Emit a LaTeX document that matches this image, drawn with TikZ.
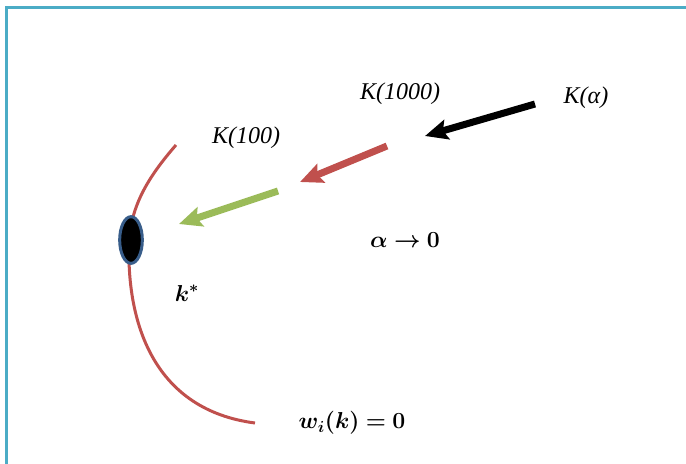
\documentclass[tikz,border=0pt]{standalone}
\usepackage{amsmath,amssymb}
\usepackage{bm}
\usepackage{fontspec}
\setmainfont{Liberation Serif}
\usepackage{tikz}
\usetikzlibrary{shapes.geometric,arrows.meta,positioning}
\definecolor{frameaqua}{HTML}{4BACC6}
\definecolor{curvered}{HTML}{C0504D}
\definecolor{leafgreen}{HTML}{9BBB59}
\definecolor{rimblue}{HTML}{385D8A}

\begin{document}
\begin{tikzpicture}[
    x=0.75pt, y=-0.75pt,
    klabel/.style={font=\fontsize{18}{21}\selectfont\itshape, inner sep=1pt},
    mlabel/.style={font=\fontsize{17}{20}\selectfont, inner sep=1pt},
    optimum/.style={ellipse, draw=rimblue, fill=black, line width=2.25pt, inner sep=0pt, minimum width=17pt, minimum height=35pt},
    flow/.style={-{Stealth[length=17pt,width=15pt,inset=3pt]}, line width=5.25pt}
]
\useasboundingbox (0,0) rectangle (686,464);

% frame
\draw[frameaqua, line width=2.25pt] (6,464) -- (6,7) -- (686,7);

% constraint curve
\draw[curvered, line width=2.25pt] (176,145) .. controls (150,175) and (130,205) .. (129,245)
    .. controls (127,325) and (155,410) .. (255,423);

\node[optimum] (kstar) at (131,240) {};

\node[klabel] (k100) at (246,138) {K(100)};
\node[klabel] (k1000) at (400,94) {K(1000)};
\node[klabel] (kalpha) at (586,98) {K(α)};
\node[mlabel] (limit) at (405,240) {$\bm{\alpha\to 0}$};
\node[mlabel] (kstarlabel) at (187,293) {$\bm{k^{*}}$};
\node[mlabel] (wzero) at (352,423) {$\bm{w_i(k)=0}$};

\coordinate (blacktail) at (535,104);
\coordinate (blacktip) at (425,136);
\coordinate (redtail) at (387,146);
\coordinate (redtip) at (300,182);
\coordinate (greentail) at (278,191);
\coordinate (greentip) at (179,224);

\draw[flow, black] (blacktail) -- (blacktip);
\draw[flow, curvered] (redtail) -- (redtip);
\draw[flow, leafgreen] (greentail) -- (greentip);

\end{tikzpicture}
\end{document}
